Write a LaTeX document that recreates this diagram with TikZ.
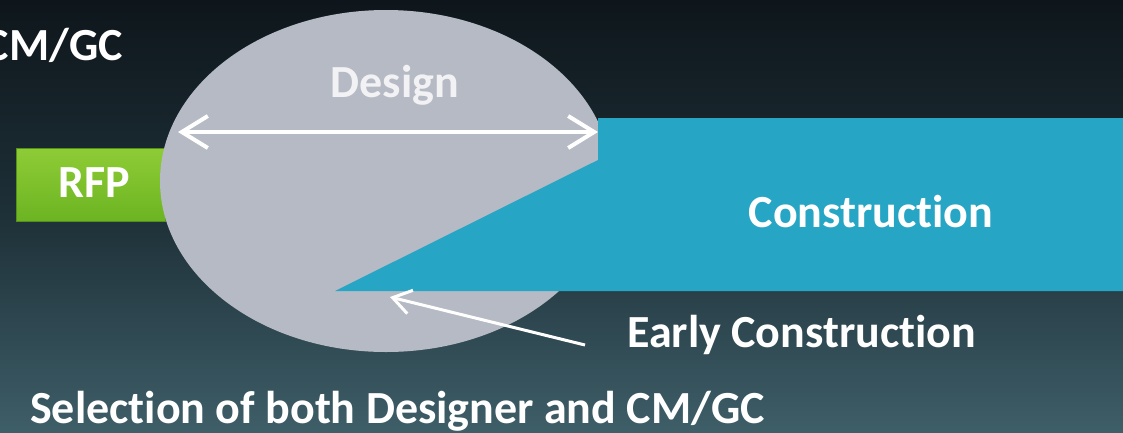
\documentclass[tikz,border=0pt]{standalone}
\usepackage{fontspec}
\setmainfont{Carlito}[Ligatures=NoCommon]
\usetikzlibrary{shapes.geometric,arrows.meta}
\definecolor{bgtop}{RGB}{14,22,27}
\definecolor{bgmid}{RGB}{30,48,56}
\definecolor{bgbot}{RGB}{62,94,104}
\definecolor{ovalgray}{RGB}{181,186,196}
\definecolor{teal}{RGB}{38,166,196}
\definecolor{rfptop}{RGB}{142,204,54}
\definecolor{rfpbot}{RGB}{108,180,34}
\definecolor{designtxt}{RGB}{242,242,244}
\tikzset{
  lbl/.style={text=white,font=\bfseries\fontsize{46}{52}\selectfont,inner sep=0pt},
  rfpbox/.style={draw=rfpbot!80!black,line width=0.6pt,top color=rfptop,bottom color=rfpbot,minimum width=149pt,minimum height=73pt,inner sep=0pt},
  designoval/.style={ellipse,fill=ovalgray,minimum width=452pt,minimum height=342pt,inner sep=0pt},
  wedge/.style={fill=teal},
  spanarrow/.style={draw=white,line width=4pt,{Straight Barb[length=26pt,width=32pt]}-{Straight Barb[length=26pt,width=32pt]}},
  ptrarrow/.style={draw=white,line width=3pt,-{Straight Barb[length=18pt,width=24pt]}}
}
\begin{document}
\begin{tikzpicture}[x=1pt,y=-1pt]
\useasboundingbox (0,0) rectangle (1123,432);
\shade[top color=bgtop,bottom color=bgbot,middle color=bgmid] (0,0) rectangle (1123,432);
% RFP box
\node[rfpbox,anchor=north west] (rfp) at (16,148) {};
\node[lbl,anchor=base] (rfptxt) at (94,197) {RFP};
% Design oval
\node[designoval] (oval) at (386,181) {};
% Construction wedge
\coordinate (tip) at (335,291);
\path[wedge] (tip) -- (598,160) -- (598,118) -- (1123,118) -- (1123,291) -- cycle;
\node[lbl,anchor=base] (constr) at (871,227) {Construction};
% Design span arrow
\coordinate (dL) at (178,132);
\coordinate (dR) at (598,132);
\draw[spanarrow] (dL) -- (dR);
\node[lbl,anchor=base,text=designtxt] (design) at (395,97) {Design};
% titles
\node[lbl,anchor=base east] (title) at (123,60) {CM/GC};
\node[lbl,anchor=base west] (early) at (627,347) {Early Construction};
\node[lbl,anchor=base west] (sel) at (30,423) {Selection of both Designer and CM/GC};
% pointer arrow
\coordinate (ecTail) at (585,345);
\coordinate (ecTip) at (390,297);
\draw[ptrarrow] (ecTail) -- (ecTip);
\end{tikzpicture}
\end{document}
